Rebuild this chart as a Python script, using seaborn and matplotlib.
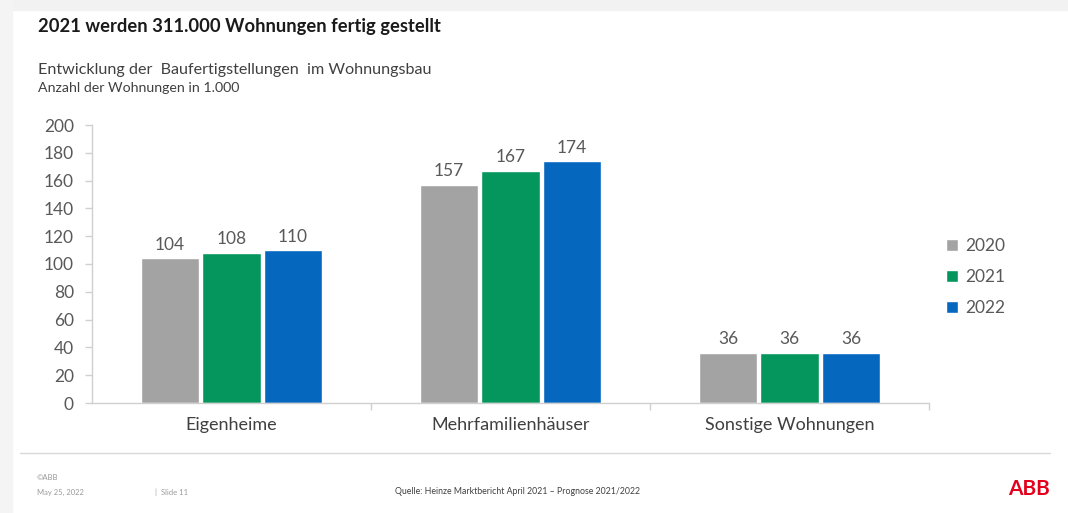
import matplotlib
matplotlib.use("Agg")
import matplotlib.pyplot as plt
import seaborn as sns
import pandas as pd
from matplotlib.ticker import FixedLocator, NullFormatter

categories = ["Eigenheime", "Mehrfamilienhäuser", "Sonstige Wohnungen"]
years = ["2020", "2021", "2022"]
values_2020 = [104, 157, 36]
values_2021 = [108, 167, 36]
values_2022 = [110, 174, 36]
yticks = [0, 20, 40, 60, 80, 100, 120, 140, 160, 180, 200]

colors = ["#A3A3A3", "#04965C", "#0667BF"]

rows = []
for yr, vals in zip(years, [values_2020, values_2021, values_2022]):
    for c, v in zip(categories, vals):
        rows.append({"Kategorie": c, "Jahr": yr, "Wert": v})
df = pd.DataFrame(rows)

sns.set_theme(style="white")
plt.rcParams["font.family"] = ["Lato", "DejaVu Sans"]

W, H = 1068, 513
fig = plt.figure(figsize=(W / 100, H / 100), dpi=100)
fig.patch.set_facecolor("white")

ax = fig.add_axes([92 / W, 1 - 403 / H, (929 - 92) / W, (403 - 125) / H])
sns.barplot(data=df, x="Kategorie", y="Wert", hue="Jahr", palette=colors,
            order=categories, hue_order=years, width=0.66, gap=0.05,
            saturation=1, ax=ax, legend=True, errorbar=None)

for cont in ax.containers:
    ax.bar_label(cont, padding=4, fontsize=12.5, color="#595959")

ax.set_ylim(0, 200)
ax.set_xlim(-0.5, 2.5)
ax.set_yticks(yticks)
ax.set_xlabel("")
ax.set_ylabel("")
ax.tick_params(axis="y", labelsize=12.5, labelcolor="#595959", length=5,
               width=1, color="#D0D0D0", direction="out", pad=8, left=True)
ax.tick_params(axis="x", which="major", labelsize=13, labelcolor="#404040",
               length=0, pad=10)
ax.xaxis.set_minor_locator(FixedLocator([0.5, 1.5, 2.5]))
ax.xaxis.set_minor_formatter(NullFormatter())
ax.tick_params(axis="x", which="minor", length=5, width=1, color="#D0D0D0",
               direction="out", bottom=True)
for s in ["top", "right"]:
    ax.spines[s].set_visible(False)
for s in ["left", "bottom"]:
    ax.spines[s].set_color("#D0D0D0")
    ax.spines[s].set_linewidth(1)

leg = ax.legend(loc="center left", bbox_to_anchor=(930 / W, 1 - 277 / H),
                bbox_transform=fig.transFigure, frameon=False, fontsize=12.5,
                handlelength=0.7, handleheight=0.7, handletextpad=0.4,
                labelspacing=0.88, labelcolor="#595959")

# Slide frame elements
fig.add_artist(plt.Rectangle((0, 1 - 10 / H), 1, 10 / H, transform=fig.transFigure,
                             color="#F2F2F2", zorder=0))
fig.add_artist(plt.Rectangle((0, 0), 12 / W, 1, transform=fig.transFigure,
                             color="#F4F4F4", zorder=0))

fig.text(38 / W, 1 - 27 / H, "2021 werden 311.000 Wohnungen fertig gestellt",
         fontsize=13.2, fontweight="bold", color="#1A1A1A", va="center")
fig.text(38 / W, 1 - 70 / H, "Entwicklung der  Baufertigstellungen  im Wohnungsbau",
         fontsize=11.6, color="#404040", va="center")
fig.text(38 / W, 1 - 88 / H, "Anzahl der Wohnungen in 1.000",
         fontsize=10.2, color="#404040", va="center")

fig.add_artist(plt.Line2D([20 / W, 1050 / W], [1 - 453 / H, 1 - 453 / H],
                          transform=fig.transFigure, color="#D9D9D9", lw=1))
fig.text(37 / W, 1 - 477 / H, "©ABB", fontsize=5.5, color="#9A9A9A", va="center")
fig.text(37 / W, 1 - 492 / H, "May 25, 2022", fontsize=5.5, color="#9A9A9A", va="center")
fig.text(155 / W, 1 - 492 / H, "|  Slide 11", fontsize=5.5, color="#9A9A9A", va="center")
fig.text(395 / W, 1 - 491 / H,
         "Quelle: Heinze Marktbericht April 2021 – Prognose 2021/2022",
         fontsize=6.3, color="#404040", va="center")
fig.text(1050 / W, 1 - 489 / H, "ABB", fontsize=15, fontweight="bold",
         color="#E2001A", va="center", ha="right")

fig.savefig("out.png", dpi=100, facecolor="white")
